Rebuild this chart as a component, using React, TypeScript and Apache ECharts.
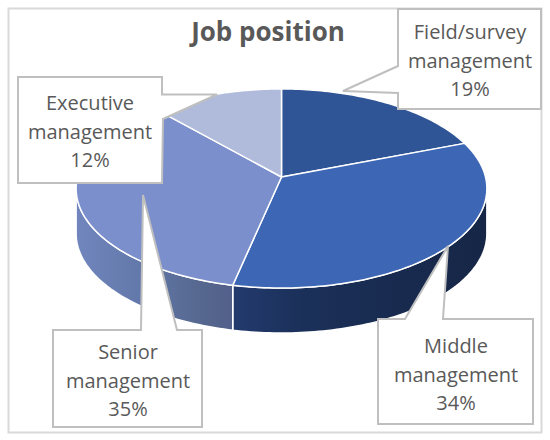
import React, { useEffect, useRef } from "react";
import * as echarts from "echarts";

const categories = ["Field/survey\nmanagement", "Middle\nmanagement", "Senior\nmanagement", "Executive\nmanagement"];
const values = [19.2, 34.2, 35, 11.6];
const topColors = ["#2f5597", "#3d66b4", "#7a8fcb", "#b0bbdc"];
const titleText = "Job position";

// Geometry of the projected disc
const APEX_X = 281.5;
const APEX_Y = 177;
const RADIUS = 204;
const TILT = 98.2;
const PERSPECTIVE = -0.1156;
const DEPTH = 45;
const TEXT = "#595959";
const FRAME = "#bfbfbf";
const FONT = "'Open Sans', 'Noto Sans', sans-serif";

// Callout outlines and label centres, same order as the categories
const callouts = [
  { outline: [[398, 9], [398, 66], [343, 91], [398, 93], [398, 109], [541, 109], [541, 9]], cx: 470, cy: 60 },
  { outline: [[378, 319], [405, 319], [448, 246], [443, 319], [533, 319], [533, 424], [378, 424]], cx: 456, cy: 374 },
  { outline: [[53, 330], [141, 330], [143, 195], [177, 330], [202, 330], [202, 427], [53, 427]], cx: 128, cy: 380 },
  { outline: [[18, 77], [162, 77], [162, 94.5], [217, 94.5], [163, 119], [162, 183], [18, 183]], cx: 90, cy: 131 },
];

const project = (theta: number): number[] => {
  const X = Math.sin(theta);
  const Y = -Math.cos(theta);
  const d = 1 + PERSPECTIVE * Y;
  return [APEX_X + (RADIUS * X) / d, APEX_Y + (TILT * Y) / d];
};

const total = values.reduce((a, b) => a + b, 0);
const sliceRange = (i: number): number[] => {
  const before = values.slice(0, i).reduce((a, b) => a + b, 0);
  return [(before / total) * Math.PI * 2, ((before + values[i]) / total) * Math.PI * 2];
};

const sample = (a: number, b: number): number[][] => {
  const n = Math.max(2, Math.ceil((b - a) / 0.02));
  const pts: number[][] = [];
  for (let i = 0; i <= n; i++) pts.push(project(a + ((b - a) * i) / n));
  return pts;
};

const wallStart = Math.acos(PERSPECTIVE);
const wallEnd = Math.PI * 2 - wallStart;

const wallFill = () =>
  new echarts.graphic.LinearGradient(
    76, 0, 488, 0,
    [
      { offset: 0, color: "#7186bd" },
      { offset: 0.15, color: "#6379ab" },
      { offset: 0.3, color: "#56688f" },
      { offset: 0.38, color: "#525f8a" },
      { offset: 0.381, color: "#223a6e" },
      { offset: 0.55, color: "#1b3059" },
      { offset: 0.8, color: "#182a4e" },
      { offset: 1, color: "#162646" },
    ],
    true,
  );

const renderWall = (params: any) => {
  const [a, b] = sliceRange(params.dataIndex);
  const from = Math.max(a, wallStart);
  const to = Math.min(b, wallEnd);
  if (to <= from) return { type: "group", children: [] };
  const rim = sample(from, to);
  const lower = rim.map((p) => [p[0], p[1] + DEPTH]).reverse();
  return {
    type: "polygon",
    shape: { points: [...rim, ...lower] },
    style: { fill: wallFill(), stroke: "#ffffff", lineWidth: 1.5 },
  };
};

const renderTop = (params: any) => {
  const [a, b] = sliceRange(params.dataIndex);
  return {
    type: "polygon",
    shape: { points: [[APEX_X, APEX_Y], ...sample(a, b)] },
    style: { fill: topColors[params.dataIndex], stroke: "#ffffff", lineWidth: 1.5, lineJoin: "round" },
  };
};

const calloutGraphics = callouts.flatMap((c, i) => [
  {
    type: "polygon",
    z: 10,
    shape: { points: c.outline },
    style: { fill: "#ffffff", stroke: FRAME, lineWidth: 2 },
  },
  {
    type: "text",
    z: 11,
    x: c.cx,
    y: c.cy,
    style: {
      text: `${categories[i]}\n${Math.round(values[i])}%`,
      fill: TEXT,
      font: `20px ${FONT}`,
      lineHeight: 28.5,
      align: "center",
      verticalAlign: "middle",
    },
  },
]);

export default function App() {
  const ref = useRef<HTMLDivElement>(null);
  useEffect(() => {
    document.body.style.margin = "0";
    const chart = echarts.init(ref.current!, undefined, { renderer: "svg" });
    const seriesData = values.map((v, i) => ({ name: categories[i], value: v }));
    chart.setOption({
      animation: false,
      backgroundColor: "#ffffff",
      title: {
        text: titleText,
        left: 263,
        top: 13,
        textAlign: "center",
        textStyle: { color: TEXT, fontFamily: FONT, fontSize: 26, fontWeight: "bold" },
      },
      series: [
        { type: "custom", coordinateSystem: "none", renderItem: renderWall, data: seriesData, z: 2, silent: true },
        { type: "custom", coordinateSystem: "none", renderItem: renderTop, data: seriesData, z: 3, silent: true },
      ],
      graphic: [
        {
          type: "rect",
          z: 0,
          shape: { x: 8.5, y: 8.5, width: 533, height: 424 },
          style: { fill: "transparent", stroke: "#d9d9d9", lineWidth: 2 },
        },
        ...calloutGraphics,
      ],
    });
    return () => chart.dispose();
  }, []);
  return <div ref={ref} style={{ width: 550, height: 440, position: "absolute", left: 0, top: 0 }} />;
}
